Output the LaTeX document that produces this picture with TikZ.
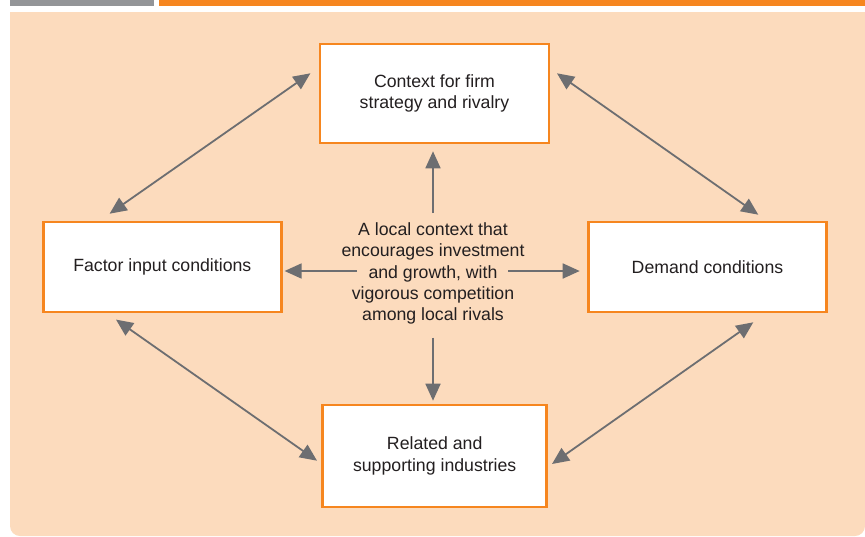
\documentclass[tikz,border=0pt]{standalone}
\usepackage{fontspec}
\setmainfont{Liberation Sans}
\usetikzlibrary{arrows.meta,calc}
\definecolor{peach}{RGB}{252,219,189}
\definecolor{orng}{RGB}{246,134,31}
\definecolor{barg}{RGB}{147,149,152}
\definecolor{arrg}{RGB}{109,110,113}
\definecolor{txt}{RGB}{35,31,32}
\begin{document}
\begin{tikzpicture}[x=1pt,y=-1pt,
  lbl/.style={text=txt,align=center,font=\fontsize{17.7}{21.3}\selectfont},
  box/.style={lbl,draw=orng,line width=2.6pt,fill=white,inner sep=0pt},
  arr/.style={draw=arrg,line width=1.8pt,-{Triangle[length=17pt,width=15pt]}},
  biarr/.style={draw=arrg,line width=1.8pt,{Triangle[length=17pt,width=15pt]}-{Triangle[length=17pt,width=15pt]}}]
\useasboundingbox (0,0) rectangle (865,536);
% background
\fill[barg] (10,0) rectangle (154,6);
\fill[orng] (159,0) rectangle (865,6);
\fill[peach,rounded corners=10pt] (10,12) rectangle (865,536);
\fill[peach] (10,12) rectangle (865,40);
% boxes
\node[box,minimum width=229pt,minimum height=99pt] (top) at (434.5,93.5) {Context for firm\\strategy and rivalry};
\node[box,minimum width=238pt,minimum height=90pt] (left) at (162.3,267) {Factor input conditions};
\node[box,minimum width=238pt,minimum height=90pt] (right) at (707.5,267) {Demand conditions};
\node[box,minimum width=224pt,minimum height=102pt] (bottom) at (434.7,456) {Related and\\supporting industries};
% centre text
\node[lbl,inner xsep=0pt,inner ysep=8pt] (mid) at (433,273.5) {A local context that\\encourages investment\\and growth, with\\vigorous competition\\among local rivals};
% centre arrows
\coordinate (mL) at ([shift={(-76,-2.5)}]mid.center);
\coordinate (mR) at ([shift={(75,-2.5)}]mid.center);
\coordinate (mU) at ([shift={(0,-60.5)}]mid.center);
\coordinate (mD) at ([shift={(0,64)}]mid.center);
\draw[arr,shorten >=7pt] (mU) -- (mU |- top.south);
\draw[arr,shorten >=3pt] (mD) -- (mD |- bottom.north);
\draw[arr,shorten >=2pt] (mL) -- (mL -| left.east);
\draw[arr,shorten >=7.5pt] (mR) -- (mR -| right.west);
% diagonal arrows
\coordinate (tA) at ([shift={(-8.3,-20.2)}]top.west);
\coordinate (lB) at ([shift={(-52.7,-7)}]left.north);
\coordinate (tC) at ([shift={(6.7,-20.2)}]top.east);
\coordinate (rD) at ([shift={(50.8,-6)}]right.north);
\coordinate (lE) at ([shift={(-46.3,6.3)}]left.south);
\coordinate (bF) at ([shift={(-4.4,4.7)}]bottom.west);
\coordinate (rG) at ([shift={(45.8,9)}]right.south);
\coordinate (bH) at ([shift={(4,8)}]bottom.east);
\draw[biarr] (tA) -- (lB);
\draw[biarr] (tC) -- (rD);
\draw[biarr] (lE) -- (bF);
\draw[biarr] (rG) -- (bH);
\end{tikzpicture}
\end{document}
